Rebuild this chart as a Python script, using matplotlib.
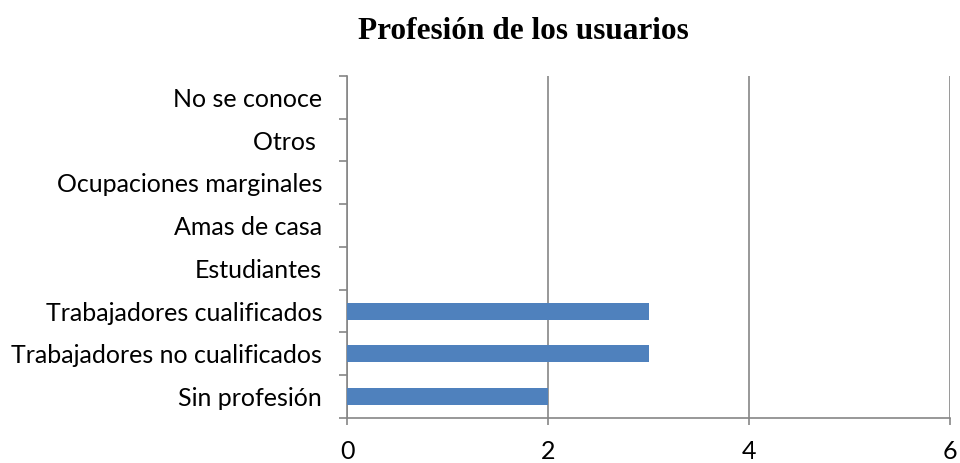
import matplotlib.pyplot as plt
import numpy as np

categorias = ["Sin profesión", "Trabajadores no cualificados", "Trabajadores cualificados",
              "Estudiantes", "Amas de casa", "Ocupaciones marginales", "Otros ", "No se conoce"]
valores = [2, 3, 3, 0, 0, 0, 0, 0]
xticks = [0, 2, 4, 6]

gris = "#868686"

fig = plt.figure(figsize=(9.6, 4.63), dpi=100)
ax = fig.add_axes([0.3615, 0.0972, 0.9896 - 0.3615, 0.8359 - 0.0972])

y = np.arange(len(categorias))
ax.barh(y, valores, height=0.4, color="#4F81BD", linewidth=0, zorder=3)

ax.set_xlim(0, 6)
ax.set_ylim(-0.5, len(categorias) - 0.5)
ax.set_xticks(xticks)
ax.set_xticklabels([str(t) for t in xticks], fontsize=18, family="Lato")
ax.set_yticks(y)
ax.set_yticklabels(categorias, fontsize=18, family="Lato")
ax.set_yticks(np.arange(-0.5, len(categorias), 1), minor=True)

ax.tick_params(axis="y", which="major", length=0, pad=18)
ax.tick_params(axis="y", which="minor", length=6, width=1.2, color=gris)
ax.tick_params(axis="x", length=5, width=1.2, color=gris, pad=11)

ax.grid(axis="x", color=gris, linewidth=1.2, zorder=0)
for s in ["top", "right"]:
    ax.spines[s].set_visible(False)
for s in ["left", "bottom"]:
    ax.spines[s].set_color(gris)
    ax.spines[s].set_linewidth(1.2)

fig.text(0.545, 0.933, "Profesión de los usuarios", ha="center", va="center",
         fontsize=22.5, fontweight="bold", family="Liberation Serif")

fig.savefig("out.png", dpi=100)
